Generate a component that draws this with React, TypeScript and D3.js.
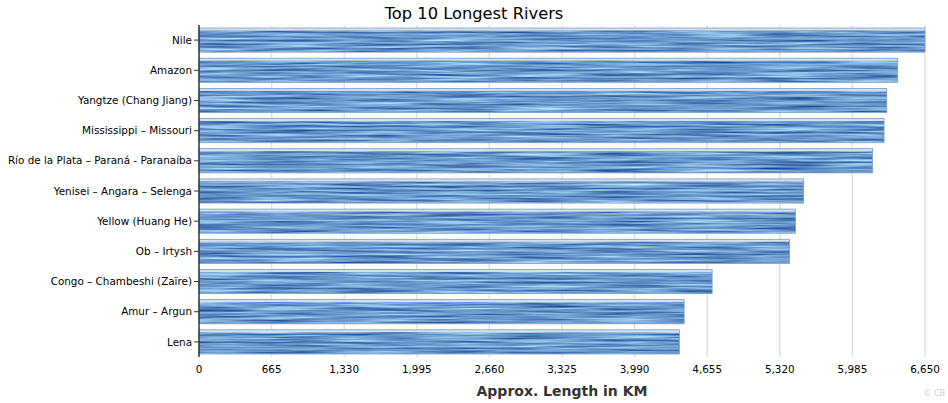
import React from "react";
import * as d3 from "d3";

const rivers = [
  "Nile",
  "Amazon",
  "Yangtze (Chang Jiang)",
  "Mississippi – Missouri",
  "Río de la Plata – Paraná - Paranaíba",
  "Yenisei – Angara – Selenga",
  "Yellow (Huang He)",
  "Ob – Irtysh",
  "Congo – Chambeshi (Zaïre)",
  "Amur – Argun",
  "Lena",
];
const lengths = [6650, 6400, 6300, 6275, 6170, 5539, 5464, 5410, 4700, 4444, 4400];
const xTicks = [0, 665, 1330, 1995, 2660, 3325, 3990, 4655, 5320, 5985, 6650];
const title = "Top 10 Longest Rivers";
const xTitle = "Approx. Length in KM";

const W = 948;
const H = 403;
const left = 199;
const right = 925;
const top = 25;
const bottom = 357;
const FONT = "'DejaVu Sans', Verdana, sans-serif";

export default function App() {
  const x = d3.scaleLinear().domain([0, 6650]).range([left, right]);
  const y = d3
    .scaleBand<string>()
    .domain(rivers)
    .range([top, bottom])
    .paddingInner(0.2)
    .paddingOuter(0.1);
  const fmt = d3.format(",");
  const bh = y.bandwidth();

  return (
    <svg
      width={W}
      height={H}
      style={{ position: "absolute", left: 0, top: 0, background: "#fff" }}
      fontFamily={FONT}
    >
      <defs>
        <filter
          id="water"
          x="0"
          y="0"
          width="1"
          height="1"
          filterUnits="objectBoundingBox"
          colorInterpolationFilters="sRGB"
        >
          <feTurbulence
            type="fractalNoise"
            baseFrequency="0.012 0.5"
            numOctaves={3}
            seed={7}
            result="noise"
          />
          <feColorMatrix
            in="noise"
            type="matrix"
            values="0.85 0 0 0 -0.01  0.85 0 0 0 0.17  0.6 0 0 0 0.5  0 0 0 0 1"
            result="col"
          />
          <feComposite in="col" in2="SourceAlpha" operator="in" />
        </filter>
      </defs>

      <text x={W / 2} y={19} textAnchor="middle" fontSize={16.3} fill="#000">
        {title}
      </text>

      {xTicks.map((t) => (
        <g key={t}>
          {t > 0 && (
            <line x1={x(t)} x2={x(t)} y1={top} y2={bottom} stroke="#e0e0e0" strokeWidth={1.5} />
          )}
          <text x={x(t)} y={373} textAnchor="middle" fontSize={10.4} fill="#000">
            {fmt(t)}
          </text>
        </g>
      ))}

      {rivers.map((r, i) => {
        const y0 = y(r)!;
        const x1 = x(lengths[i]);
        return (
          <g key={r}>
            <rect x={left} y={y0} width={x1 - left} height={bh} fill="#5b8cc4" filter="url(#water)" />
            <rect x={left} y={y0} width={x1 - left} height={2.5} fill="#d6e1ee" />
            <rect
              x={left}
              y={y0}
              width={x1 - left}
              height={bh}
              fill="none"
              stroke="#7aa0cc"
              strokeWidth={0.8}
            />
            <line x1={left - 5} x2={left} y1={y0 + bh / 2} y2={y0 + bh / 2} stroke="#333" />
            <text
              x={left - 7}
              y={y0 + bh / 2}
              dy="0.35em"
              textAnchor="end"
              fontSize={10.4}
              fill="#000"
            >
              {r}
            </text>
          </g>
        );
      })}

      <line x1={left} x2={left} y1={top} y2={bottom} stroke="#333" strokeWidth={1.5} />

      <text
        x={(left + right) / 2}
        y={396}
        textAnchor="middle"
        fontSize={14}
        fontWeight="bold"
        fill="#333"
      >
        {xTitle}
      </text>
      <text x={945} y={396} textAnchor="end" fontSize={8} fill="#d0d0d0">
        © CB
      </text>
    </svg>
  );
}
